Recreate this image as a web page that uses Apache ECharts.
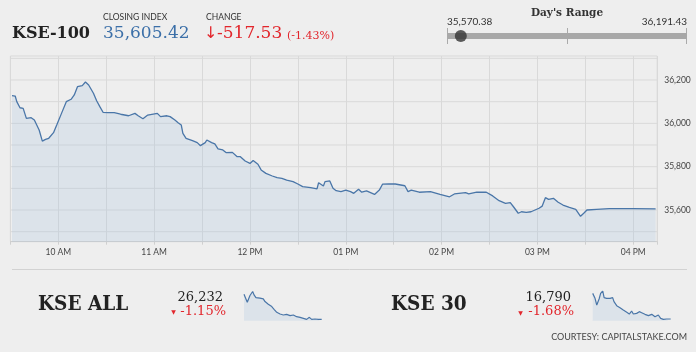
<!DOCTYPE html>
<html><head><meta charset="utf-8">
<script src="https://cdn.jsdelivr.net/npm/echarts@6/dist/echarts.min.js"></script>
<style>html,body{margin:0;padding:0;background:#eeeeee;}#c{width:696px;height:352px;}</style>
</head><body><div id="c"></div>
<script>
// ---- KSE-100 intraday ----
const mainTimes = ["09:31","09:33","09:34","09:36","09:38","09:40","09:43","09:45","09:48","09:49","09:50","09:52","09:54","09:57","09:59","10:02","10:05","10:08","10:10","10:12","10:15","10:17","10:19","10:22","10:24","10:26","10:28","10:31","10:35","10:39","10:44","10:48","10:50","10:53","10:56","11:02","11:04","11:08","11:10","11:13","11:15","11:17","11:18","11:20","11:24","11:27","11:29","11:32","11:33","11:36","11:38","11:40","11:43","11:45","11:49","11:50","11:52","11:54","11:57","12:00","12:02","12:05","12:07","12:10","12:14","12:17","12:20","12:23","12:27","12:30","12:33","12:38","12:42","12:43","12:46","12:47","12:50","12:52","12:54","12:57","13:00","13:03","13:05","13:08","13:10","13:13","13:18","13:21","13:23","13:27","13:31","13:37","13:39","13:41","13:46","13:53","13:59","14:05","14:08","14:15","14:17","14:22","14:28","14:32","14:36","14:40","14:43","14:45","14:48","14:50","14:53","14:56","15:01","15:03","15:05","15:07","15:10","15:13","15:16","15:20","15:24","15:27","15:29","15:31","15:37","15:45","16:00","16:14"];
const mainValues = [36128,36126,36100,36072,36069,36023,36026,36015,35969,35961,35918,35926,35931,35957,35992,36046,36100,36111,36131,36169,36174,36191,36177,36139,36104,36077,36051,36049,36049,36042,36035,36046,36035,36021,36038,36046,36031,36035,36031,36015,36003,35992,35954,35931,35920,35911,35897,35911,35923,35911,35905,35882,35877,35865,35866,35869,35846,35846,35826,35815,35828,35811,35785,35769,35757,35749,35746,35738,35731,35720,35708,35703,35698,35726,35711,35731,35734,35700,35689,35685,35692,35685,35677,35696,35682,35688,35672,35692,35719,35720,35720,35712,35685,35692,35682,35685,35672,35661,35674,35680,35674,35682,35682,35665,35643,35631,35634,35615,35585,35592,35589,35592,35608,35618,35657,35649,35654,35636,35623,35612,35603,35571,35585,35600,35603,35606,35606,35605];
const yLabelValues = [35600, 35800, 36000, 36200];
const yGridValues = [35500, 35600, 35700, 35800, 35900, 36000, 36100, 36200, 36300];

// ---- header figures ----
const indexName = "KSE-100";
const closingIndex = 35605.42;
const changeValue = -517.53;
const changePct = -1.43;
const dayLow = 35570.38;
const dayHigh = 36191.43;

// ---- KSE ALL sparkline ----
const kseAllTimes = ["09:31","09:48","10:02","10:16","10:23","10:33","10:54","11:11","11:20","11:37","11:55","12:07","12:21","12:38","12:55","13:12","13:30","13:47","14:04","14:22","14:39","14:56","15:10","15:22","15:39","15:57","16:14"];
const kseAllValues = [26532,26436,26516,26564,26524,26492,26484,26476,26444,26412,26384,26352,26316,26296,26284,26292,26276,26284,26264,26256,26244,26232,26256,26232,26236,26232,26232];
const kseAllClose = 26232;
const kseAllPct = -1.15;

// ---- KSE 30 sparkline ----
const kse30Times = ["09:31","09:43","09:52","10:04","10:12","10:23","10:30","10:43","11:01","11:14","11:21","11:35","11:52","12:09","12:27","12:40","12:52","13:01","13:18","13:32","13:44","14:01","14:19","14:36","14:53","15:10","15:22","15:36","15:53","16:14"];
const kse30Values = [17063,17011,16941,17004,17063,17088,17018,17011,17011,17018,16976,16934,16913,16888,16864,16846,16878,16846,16853,16871,16860,16843,16829,16843,16818,16836,16801,16790,16794,16794];
const kse30Close = 16790;
const kse30Pct = -1.68;

// ---- helpers ----
const toMin = s => { const p = s.split(':').map(Number); return p[0]*60 + p[1]; };
const fmtHour = v => { const h = Math.floor(v/60); const h12 = h % 12 === 0 ? 12 : h % 12; return String(h12).padStart(2,'0') + ' ' + (h < 12 ? 'AM' : 'PM'); };
const fmtNum = (v, d) => v.toLocaleString('en-US', {minimumFractionDigits: d, maximumFractionDigits: d});
const pair = (ts, vs) => ts.map((t, i) => [toMin(t), vs[i]]);

const LINE = '#4a76a8';
const AREA = 'rgba(165,192,222,0.35)';
const RED = '#e2262c';
const GRIDC = '#d9d9d9';
const X_MIN = 570, X_MAX = 975;

const chart = echarts.init(document.getElementById('c'), null, {renderer: 'canvas'});

const hiddenAxis = (extra) => Object.assign({show: false, type: 'value'}, extra);

// horizontal grid lines drawn as thin line series through the main scales
const gridSeries = yGridValues.map(v => ({
  type: 'line', xAxisIndex: 0, yAxisIndex: 0, z: 1, silent: true, showSymbol: false,
  data: [[X_MIN, v], [X_MAX, v]],
  lineStyle: {color: GRIDC, width: 1}, emphasis: {disabled: true}, tooltip: {show: false}
}));

const option = {
  backgroundColor: '#eeeeee',
  animation: false,
  grid: [
    {left: 10.4, right: 38.8, top: 56, bottom: 110.3, show: true, borderColor: GRIDC, borderWidth: 1, backgroundColor: 'transparent'},
    {left: 244, width: 77.7, top: 291.5, height: 29.2},
    {left: 592.7, width: 78, top: 291, height: 29.7},
    {left: 447.3, width: 239.4, top: 30, height: 12}
  ],
  xAxis: [
    {gridIndex: 0, type: 'value', min: X_MIN, max: X_MAX, interval: 30,
     axisLine: {show: true, lineStyle: {color: '#cfcfcf'}},
     axisTick: {show: true, length: 3, lineStyle: {color: '#cfcfcf'}},
     axisLabel: {color: '#444', fontSize: 8.5, fontFamily: 'Lato', margin: 6,
       formatter: v => (v % 60 === 0 ? fmtHour(v) : '')},
     splitLine: {show: true, lineStyle: {color: GRIDC, width: 1}}},
    hiddenAxis({gridIndex: 1, min: 571, max: 974}),
    hiddenAxis({gridIndex: 2, min: 571, max: 974}),
    hiddenAxis({gridIndex: 3, min: dayLow, max: dayHigh})
  ],
  yAxis: [
    {gridIndex: 0, type: 'value', position: 'right', min: 35453.7, max: 36310.8,
     splitLine: {show: false}, axisLine: {show: false}, axisTick: {show: false},
     axisLabel: {color: '#444', fontSize: 8.5, fontFamily: 'Lato', margin: 7,
       customValues: yLabelValues,
       formatter: v => (yLabelValues.indexOf(v) >= 0 ? fmtNum(v, 0) : '')}},
    hiddenAxis({gridIndex: 1, min: 26216, max: 26564}),
    hiddenAxis({gridIndex: 2, min: 16776, max: 17088}),
    hiddenAxis({gridIndex: 3, min: 0, max: 1})
  ],
  series: gridSeries.concat([
    {type: 'line', xAxisIndex: 0, yAxisIndex: 0, z: 3,
     data: pair(mainTimes, mainValues), showSymbol: false,
     lineStyle: {color: LINE, width: 1.3}, areaStyle: {color: AREA}},
    {type: 'line', xAxisIndex: 1, yAxisIndex: 1,
     data: pair(kseAllTimes, kseAllValues), showSymbol: false,
     lineStyle: {color: LINE, width: 1.2}, areaStyle: {color: AREA}},
    {type: 'line', xAxisIndex: 2, yAxisIndex: 2,
     data: pair(kse30Times, kse30Values), showSymbol: false,
     lineStyle: {color: LINE, width: 1.2}, areaStyle: {color: AREA}},
    {type: 'scatter', xAxisIndex: 3, yAxisIndex: 3, z: 10,
     data: [[closingIndex, 0.5]], symbolSize: 12, itemStyle: {color: '#333333'}}
  ]),
  graphic: [
    {type: 'text', x: 12, y: 33.5, style: {text: indexName, fill: '#222', font: 'bold 16px "DejaVu Serif"', align: 'left', verticalAlign: 'middle'}},
    {type: 'text', x: 103, y: 17, style: {text: 'CLOSING INDEX', fill: '#333', font: '8.5px Lato', align: 'left', verticalAlign: 'middle'}},
    {type: 'text', x: 103, y: 33.5, style: {text: fmtNum(closingIndex, 2), fill: '#3b6fa8', font: '17px "DejaVu Serif"', align: 'left', verticalAlign: 'middle'}},
    {type: 'text', x: 206, y: 17, style: {text: 'CHANGE', fill: '#333', font: '8.5px Lato', align: 'left', verticalAlign: 'middle'}},
    {type: 'text', x: 204, y: 33.5, style: {text: '\u2193', fill: RED, font: '16px "DejaVu Sans"', align: 'left', verticalAlign: 'middle'}},
    {type: 'text', x: 217, y: 33.5, style: {text: fmtNum(changeValue, 2), fill: RED, font: '17px "DejaVu Serif"', align: 'left', verticalAlign: 'middle'}},
    {type: 'text', x: 287, y: 36, style: {text: '(' + fmtNum(changePct, 2) + '%)', fill: RED, font: '11px "DejaVu Serif"', align: 'left', verticalAlign: 'middle'}},
    {type: 'text', x: 567, y: 13.5, style: {text: "Day's Range", fill: '#333', font: 'bold 10.5px "DejaVu Serif"', align: 'center', verticalAlign: 'middle'}},
    {type: 'text', x: 447, y: 22, style: {text: fmtNum(dayLow, 2), fill: '#333', font: '10px Lato', align: 'left', verticalAlign: 'middle'}},
    {type: 'text', x: 687, y: 22, style: {text: fmtNum(dayHigh, 2), fill: '#333', font: '10px Lato', align: 'right', verticalAlign: 'middle'}},
    {type: 'rect', z: 1, shape: {x: 447, y: 33, width: 240, height: 6}, style: {fill: '#a8a8a8'}},
    {type: 'line', shape: {x1: 447.5, y1: 28, x2: 447.5, y2: 44}, style: {stroke: '#aaa', lineWidth: 1}},
    {type: 'line', shape: {x1: 567.5, y1: 28, x2: 567.5, y2: 44}, style: {stroke: '#aaa', lineWidth: 1}},
    {type: 'line', shape: {x1: 686.5, y1: 28, x2: 686.5, y2: 44}, style: {stroke: '#aaa', lineWidth: 1}},
    {type: 'line', shape: {x1: 12, y1: 269.5, x2: 687, y2: 269.5}, style: {stroke: '#d2d2d2', lineWidth: 1}},
    {type: 'text', x: 38, y: 305, scaleX: 0.88, style: {text: 'KSE ALL', fill: '#222', font: 'bold 21px "DejaVu Serif"', align: 'left', verticalAlign: 'middle'}},
    {type: 'text', x: 223, y: 298, style: {text: fmtNum(kseAllClose, 0), fill: '#222', font: '13px "DejaVu Serif"', align: 'right', verticalAlign: 'middle'}},
    {type: 'text', x: 173.5, y: 312.5, style: {text: '\u25BC', fill: RED, font: '6px "DejaVu Sans"', align: 'center', verticalAlign: 'middle'}},
    {type: 'text', x: 226, y: 312, style: {text: fmtNum(kseAllPct, 2) + '%', fill: RED, font: '13px "DejaVu Serif"', align: 'right', verticalAlign: 'middle'}},
    {type: 'text', x: 391, y: 305, scaleX: 0.88, style: {text: 'KSE 30', fill: '#222', font: 'bold 21px "DejaVu Serif"', align: 'left', verticalAlign: 'middle'}},
    {type: 'text', x: 571, y: 298, style: {text: fmtNum(kse30Close, 0), fill: '#222', font: '13px "DejaVu Serif"', align: 'right', verticalAlign: 'middle'}},
    {type: 'text', x: 520.5, y: 313, style: {text: '\u25BC', fill: RED, font: '6px "DejaVu Sans"', align: 'center', verticalAlign: 'middle'}},
    {type: 'text', x: 574, y: 312, style: {text: fmtNum(kse30Pct, 2) + '%', fill: RED, font: '13px "DejaVu Serif"', align: 'right', verticalAlign: 'middle'}},
    {type: 'text', x: 687, y: 337.5, style: {text: 'COURTESY: CAPITALSTAKE.COM', fill: '#444', font: '9px Lato', align: 'right', verticalAlign: 'middle'}}
  ]
};
chart.setOption(option);
</script>
</body></html>
